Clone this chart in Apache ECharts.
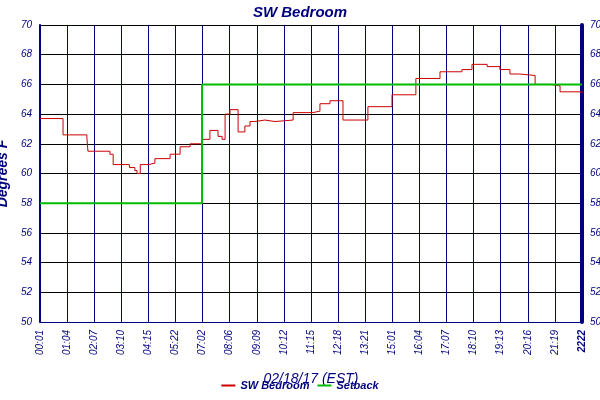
<!DOCTYPE html><html><head><meta charset="utf-8">
<script src="https://cdn.jsdelivr.net/npm/echarts@6/dist/echarts.min.js"></script>
<style>body{margin:0}#c{width:600px;height:400px}</style></head><body><div id="c"></div>
<script>
var tickLabels=["00:01","01:04","02:07","03:10","04:15","05:22","07:02","08:06","09:09","10:12","11:15","12:18","13:21","15:01","16:04","17:07","18:10","19:13","20:16","21:19","2222"];
var roomX=[0,8.5,17.3,17.7,25.8,27,33,35,35.8,37,40,42.4,48,51.7,55.4,59.8,62.7,65.7,67.2,68.3,70.1,73.1,75.6,77.5,79.3,83,86.7,93.4,100.7,103.3,107,111.8,121,129.9,138.7,147.6,155.7,159.4,165,169.7,173.4,177,182.7,188.2,191.9,200];
var roomY=[63.7,62.6,62.4,61.5,61.3,60.6,60.4,60.2,60.0,60.6,60.7,61.0,61.3,61.8,62.0,62.3,62.9,62.5,62.3,64.0,64.3,62.8,63.2,63.5,63.6,63.5,63.6,64.1,64.2,64.7,64.9,63.6,64.5,65.3,66.4,66.85,67.0,67.35,67.2,67.0,66.7,66.6,66.0,65.9,65.5,65.4];
var setX=[0,59.8,200];
var setY=[58,66,66];
var font='Liberation Sans';
function pairs(a,b){return a.map(function(v,i){return [v,b[i]];});}
var navy='#00007f';
var yCommon={type:'value',min:50,max:70,interval:2,axisTick:{show:false},
 axisLabel:{color:navy,fontStyle:'italic',fontSize:10,fontFamily:font}};
var ch=echarts.init(document.getElementById('c'));
ch.setOption({
 animation:false,backgroundColor:'#fff',
 title:{text:'SW Bedroom',left:'center',top:0,textStyle:{color:navy,fontStyle:'italic',fontWeight:'bold',fontSize:15,fontFamily:font}},
 grid:{left:40,right:18,top:25,bottom:78,containLabel:false,outerBoundsMode:'none'},
 legend:{bottom:4,left:'center',itemWidth:14,itemHeight:2,icon:'rect',
  textStyle:{color:navy,fontStyle:'italic',fontWeight:'bold',fontSize:11,fontFamily:font},
  data:['SW Bedroom','Setback']},
 xAxis:{type:'value',min:0,max:200,interval:10,
  axisLine:{lineStyle:{color:navy,width:1}},axisTick:{show:false},
  splitLine:{lineStyle:{color:navy,width:1}},
  axisLabel:{rotate:90,color:navy,fontSize:10,fontStyle:'italic',fontFamily:font,showMaxLabel:true,
   formatter:function(v){var i=Math.round(v/10);return i===20?'{b|'+tickLabels[i]+'}':tickLabels[i];},
   rich:{b:{fontWeight:'bold',color:navy,fontSize:10,fontFamily:font}}},
  name:'02/18/17 (EST)',nameLocation:'middle',nameGap:50,
  nameTextStyle:{color:navy,fontStyle:'italic',fontSize:14,fontFamily:font}},
 yAxis:[Object.assign({},yCommon,{position:'left',
   axisLine:{show:true,lineStyle:{color:navy,width:2}},
   splitLine:{lineStyle:{color:'#000',width:1}},
   name:'Degrees F',nameLocation:'middle',nameGap:26,
   nameTextStyle:{color:navy,fontStyle:'italic',fontWeight:'bold',fontSize:14,fontFamily:font}}),
  Object.assign({},yCommon,{position:'right',
   axisLine:{show:true,lineStyle:{color:navy,width:4}},splitLine:{show:false}})],
 series:[
  {name:'SW Bedroom',type:'line',step:'end',symbol:'none',data:pairs(roomX,roomY),
   lineStyle:{color:'#cc0000',width:1},itemStyle:{color:'#cc0000'},z:3},
  {name:'Setback',type:'line',step:'end',symbol:'none',data:pairs(setX,setY),
   lineStyle:{color:'#00bb00',width:2},itemStyle:{color:'#00bb00'},z:4}
 ]
});
</script></body></html>
